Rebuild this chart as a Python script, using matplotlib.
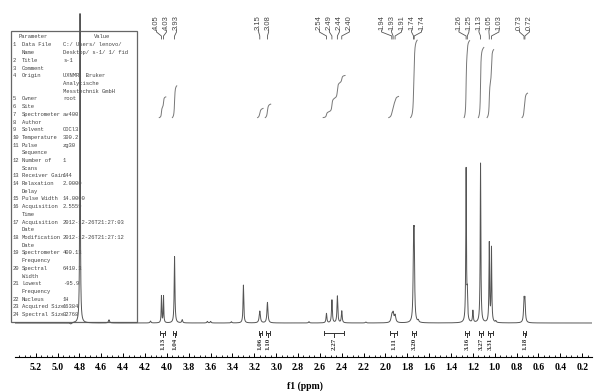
import numpy as np
import matplotlib
matplotlib.use("Agg")
import matplotlib.pyplot as plt
from matplotlib.patches import Rectangle
from matplotlib.ticker import MultipleLocator, FormatStrFormatter
from matplotlib import transforms

W, H = 605, 391

# labelled peaks: shift (ppm), relative height, line width (ppm, FWHM)
peak_ppm = [4.050, 4.031, 3.930, 3.150, 3.080, 2.540, 2.490, 2.440, 2.400,
            1.942, 1.930, 1.912, 1.743, 1.737, 1.262, 1.251, 1.130,
            1.050, 1.030, 0.732, 0.724]
peak_height = [0.17, 0.17, 0.42, 0.075, 0.13, 0.06, 0.145, 0.17, 0.075,
               0.045, 0.055, 0.045, 0.44, 0.44, 0.97, 0.15, 1.01,
               0.50, 0.47, 0.13, 0.13]
peak_width = [0.006, 0.006, 0.008, 0.013, 0.011, 0.009, 0.009, 0.009, 0.009,
              0.015, 0.015, 0.015, 0.009, 0.009, 0.007, 0.007, 0.007,
              0.007, 0.007, 0.010, 0.010]

# unlabelled signals (solvent / impurities)
extra_ppm = [4.795, 4.880, 4.530, 4.150, 3.860, 3.630, 3.600, 3.410, 3.300,
             2.700, 2.180, 1.700, 1.200, 0.990]
extra_height = [1.96, -0.008, 0.02, 0.012, 0.02, 0.01, 0.01, 0.008, 0.24,
                0.008, 0.006, 0.012, 0.075, 0.01]
extra_width = [0.006, 0.02, 0.012, 0.01, 0.01, 0.01, 0.01, 0.01, 0.008,
               0.01, 0.01, 0.01, 0.008, 0.01]

# integrals: region start/end (ppm) and normalised value
int_start = [4.07, 3.95, 3.17, 3.10, 2.57, 1.97, 1.77, 1.28, 1.15, 1.07, 0.75]
int_end = [4.01, 3.91, 3.12, 3.05, 2.37, 1.88, 1.71, 1.23, 1.10, 1.01, 0.70]
int_value = [1.13, 1.04, 1.06, 1.10, 2.27, 1.11, 3.20, 3.16, 3.27, 3.31, 1.18]

# acquisition parameter table
param_names = ["Data File\nName", "Title", "Comment", "Origin", "Owner", "Site",
               "Spectrometer", "Author", "Solvent", "Temperature",
               "Pulse\nSequence", "Number of\nScans", "Receiver Gain",
               "Relaxation\nDelay", "Pulse Width", "Acquisition\nTime",
               "Acquisition\nDate", "Modification\nDate",
               "Spectrometer\nFrequency", "Spectral\nWidth",
               "Lowest\nFrequency", "Nucleus", "Acquired Size", "Spectral Size"]
param_values = ["C:/ Users/ lenovo/\nDesktop/ s-1/ 1/ fid", "s-1", "",
                "UXNMR, Bruker\nAnalytische\nMesstechnik GmbH", "root", "",
                "av400", "", "CDCl3", "300.2", "zg30", "1", "144", "2.0000",
                "14.0000", "2.5559", "2012-12-26T21:27:03",
                "2012-12-26T21:27:12", "400.13", "6410.3", "-95.9", "1H",
                "16384", "32768"]


def lorentz(x, p, h, w):
    return h / (1 + ((x - p) / (w / 2)) ** 2)


def fy(py):
    # pixel row -> figure fraction
    return 1 - py / H


fig = plt.figure(figsize=(W / 100, H / 100), dpi=100)
ax = fig.add_axes([15 / W, 34 / H, 577 / W, 357 / H])
ax.set_xlim(5.39, 0.11)
ax.set_ylim(-34 / 158, 323 / 158)
tr = transforms.blended_transform_factory(ax.transData, fig.transFigure)

all_ppm = peak_ppm + extra_ppm
all_h = peak_height + extra_height
all_w = peak_width + extra_width

x = np.linspace(5.39, 0.11, 18000)
y = np.zeros_like(x)
for p, h, w in zip(all_ppm, all_h, all_w):
    y += lorentz(x, p, h, w)
ax.plot(x, y, color="#555555", lw=0.7, zorder=3)

# integral curves
areas = []
curves = []
for a, b in zip(int_start, int_end):
    xs = np.linspace(a, b, 400)
    ys = np.zeros_like(xs)
    for p, h, w in zip(all_ppm, all_h, all_w):
        ys += lorentz(xs, p, h, w)
    cum = np.concatenate([[0], np.cumsum((ys[1:] + ys[:-1]) / 2 * np.abs(np.diff(xs)))])
    areas.append(cum[-1])
    curves.append((xs, cum))
k = 0.49 / max(areas)
for xs, cum in curves:
    ax.plot(xs, 1.30 + cum * k, color="#777777", lw=0.7, zorder=3)

# integral brackets and values
for a, b, v in zip(int_start, int_end, int_value):
    a2, b2 = a - 0.01, b + 0.01
    ax.plot([a2, b2], [fy(333), fy(333)], transform=tr, color="#333333", lw=0.7, clip_on=False)
    for e in (a2, b2):
        ax.plot([e, e], [fy(331), fy(335)], transform=tr, color="#333333", lw=0.7, clip_on=False)
    m = (a + b) / 2
    ax.plot([m, m], [fy(333), fy(337)], transform=tr, color="#333333", lw=0.7, clip_on=False)
    ax.text(m, fy(338), f"{v:.2f}", transform=tr, rotation=90, ha="center", va="top",
            fontsize=5, family="Liberation Serif", weight="bold", color="#333333")

# peak labels, spread apart so they do not collide
ppm_per_px = (5.39 - 0.11) / 577
gap = 10 * ppm_per_px
pos = sorted(peak_ppm)
for _ in range(400):
    for i in range(1, len(pos)):
        d = pos[i] - pos[i - 1]
        if d < gap:
            s = (gap - d) / 2
            pos[i - 1] -= s
            pos[i] += s
order = np.argsort(peak_ppm)
label_x = [0] * len(peak_ppm)
for j, i in enumerate(order):
    label_x[i] = pos[j]
for p, lx in zip(peak_ppm, label_x):
    ax.text(lx, fy(30), f"{p:.2f}", transform=tr, rotation=90, ha="center", va="bottom",
            fontsize=5.5, family="Liberation Sans", color="#444444")
    ax.plot([lx, lx, p, p], [fy(30), fy(32), fy(36), fy(39)], transform=tr,
            color="#555555", lw=0.6, clip_on=False)

# parameter table (drawn under the spectrum)
ax.add_patch(Rectangle((11 / W, fy(322)), 126 / W, 291 / H, transform=fig.transFigure,
                       facecolor="white", edgecolor="#666666", lw=0.9, zorder=1, clip_on=False))
tkw = dict(transform=fig.transFigure, fontsize=4, family="Liberation Mono",
           color="#444444", va="center", zorder=2, clip_on=False)
ax.text(33 / W, fy(36), "Parameter", ha="center", **tkw)
ax.text(102 / W, fy(36), "Value", ha="center", **tkw)
line = 0
for i, (n, v) in enumerate(zip(param_names, param_values)):
    ax.text(13 / W, fy(45 + line * 7.7), str(i + 1), ha="left", **tkw)
    nl = n.split("\n")
    vl = v.split("\n")
    for j, s in enumerate(nl):
        ax.text(22 / W, fy(45 + (line + j) * 7.7), s, ha="left", **tkw)
    for j, s in enumerate(vl):
        ax.text(63 / W, fy(45 + (line + j) * 7.7), s, ha="left", **tkw)
    line += max(len(nl), len(vl))

# axis styling
for s in ("top", "left", "right"):
    ax.spines[s].set_visible(False)
ax.spines["bottom"].set_linewidth(0.8)
ax.set_yticks([])
ax.xaxis.set_major_locator(MultipleLocator(0.2))
ax.xaxis.set_minor_locator(MultipleLocator(0.05))
ax.xaxis.set_major_formatter(FormatStrFormatter("%.1f"))
ax.tick_params(axis="x", which="major", direction="in", length=3, width=0.7, pad=4)
ax.tick_params(axis="x", which="minor", direction="in", length=1.5, width=0.6)
for t in ax.get_xticklabels():
    t.set_fontfamily("Liberation Serif")
    t.set_fontweight("bold")
    t.set_fontsize(7)
ax.set_xlabel("f1 (ppm)", family="Liberation Serif", weight="bold", fontsize=7, labelpad=1)
ax.xaxis.set_label_coords((305 - 15) / 577, -0.068)
ax.patch.set_alpha(0)

fig.savefig("out.png", dpi=100)
